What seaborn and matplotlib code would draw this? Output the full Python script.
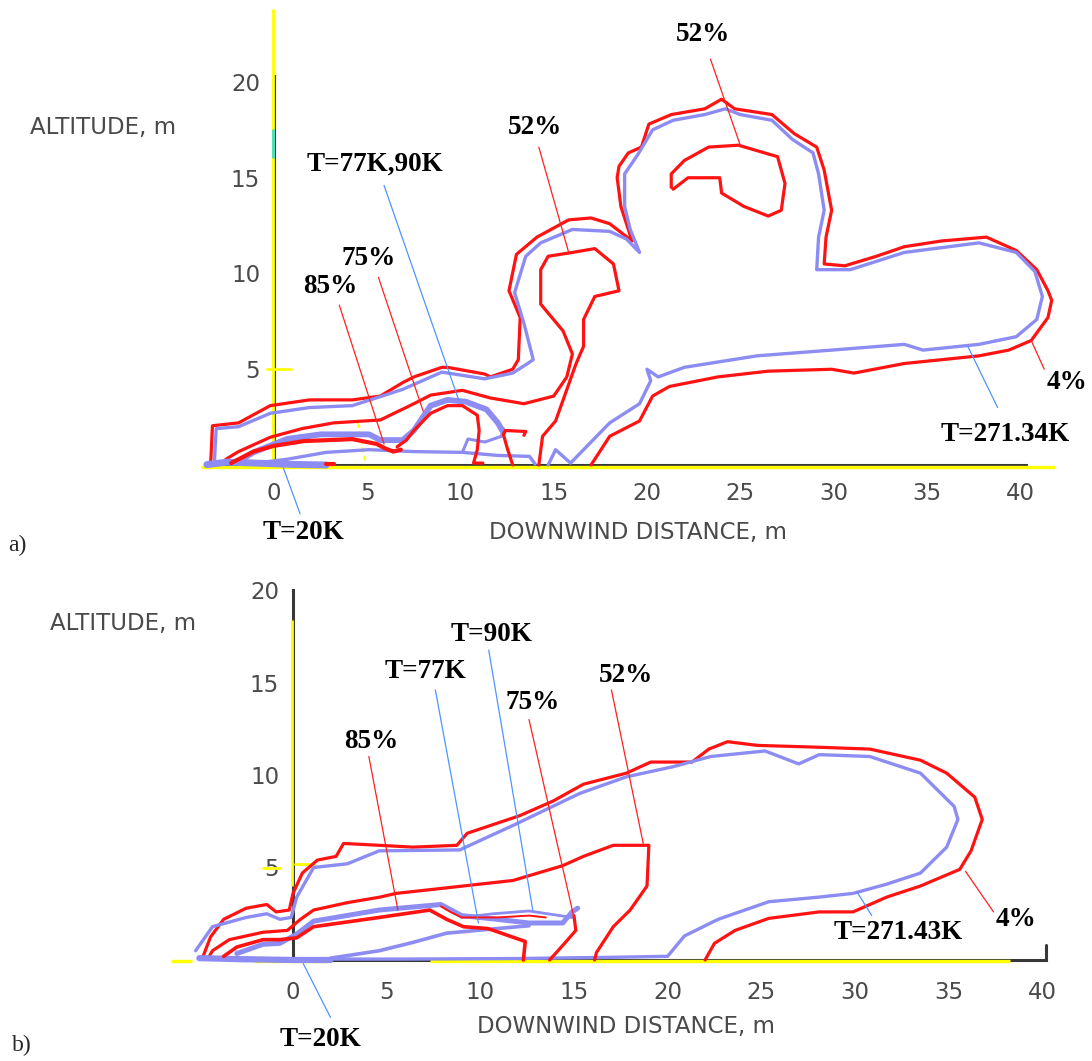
import matplotlib
matplotlib.use("Agg")
import matplotlib.pyplot as plt
import seaborn as sns
import numpy as np
from matplotlib import font_manager

# ------------------------------------------------------------------
# Panel a) contour traces (downwind distance m, altitude m)
# ------------------------------------------------------------------
A_R4_X = [-3.4,-3.3,-1.9,-0.2,1.9,4.2,5.7,6.9,7.5,9.0,9.3,11.3,11.6,12.8,13.1,13.2,12.6,13.0,14.1,15.8,17.0,18.0,19.2,18.6,18.4,18.5,19.0,19.7,20.1,21.3,23.1,24.0,24.7,26.7,27.9,29.1,29.5,29.9,29.6,29.5,30.6,32.3,33.8,35.8,38.2,39.8,40.9,41.5,41.7,41.5,40.6,39.4,37.8,35.8,33.8,31.1,29.9,26.5,23.8,21.2,20.3,19.6,18.0,17.0]
A_R4_Y = [0.0,2.05,2.2,3.1,3.4,3.4,3.6,4.3,4.6,5.1,5.1,4.75,4.6,5.0,5.5,7.7,9.1,11.0,11.9,12.8,12.9,12.6,11.7,13.5,15.0,15.6,16.3,16.6,17.8,18.3,18.6,19.1,18.6,18.3,17.3,16.6,15.4,13.3,11.9,10.5,10.4,10.9,11.4,11.7,11.9,11.2,10.2,9.1,8.6,7.7,6.5,6.0,5.7,5.5,5.3,4.8,5.0,4.9,4.6,4.1,3.6,2.3,1.5,0.0]

A_B271_X = [-3.2,-3.1,-1.9,-0.2,1.9,4.2,6.9,9.0,11.3,12.8,13.6,13.9,13.4,12.9,13.5,14.3,16.0,18.0,18.9,19.6,19.1,18.8,18.8,19.5,20.3,21.4,23.1,24.2,25.0,26.7,27.8,28.9,29.2,29.5,29.2,29.1,30.9,33.8,37.8,39.8,40.8,41.2,40.9,39.8,37.8,34.8,33.8,29.9,25.9,22.0,20.6,20.0,20.2,19.6,18.0,17.5,15.9,15.1,14.7]
A_B271_Y = [0.1,1.9,2.0,2.7,3.0,3.1,3.95,4.85,4.5,4.8,5.3,5.5,7.4,9.0,10.9,11.6,12.3,12.2,11.8,11.1,12.3,13.5,15.2,16.2,17.5,18.0,18.3,18.6,18.3,18.0,17.0,16.3,15.2,13.3,11.9,10.2,10.2,11.1,11.6,11.1,10.1,8.8,7.6,6.7,6.3,6.0,6.3,6.0,5.7,5.1,4.6,5.0,4.4,3.2,2.2,1.7,0.1,0.8,0.0]

A_R52_X = [-2.9,-2.5,-1.9,-0.2,1.5,3.2,5.7,7.5,8.4,10.1,11.6,13.4,15.0,15.7,16.0,15.5,14.3,14.3,14.7,16.0,17.2,18.2,18.5,17.2,16.6,16.6,16.2,15.1,14.4,14.2]
A_R52_Y = [0.05,0.35,0.7,1.45,1.9,2.2,2.35,3.2,3.65,3.9,3.5,3.2,3.6,4.6,5.8,7.0,8.4,10.2,10.9,11.1,11.3,10.5,9.1,8.8,7.6,6.2,5.3,2.3,1.5,0.0]

A_R52T_X = [21.3,21.3,22.0,23.3,24.9,27.0,27.4,27.2,26.5,25.2,24.0,23.9,22.2,21.4]
A_R52T_Y = [14.5,15.2,15.9,16.6,16.7,16.1,14.7,13.3,13.0,13.5,14.2,15.0,15.0,14.4]

A_R85_X = [-2.3,-1.1,0.0,1.6,4.2,5.5,6.0,6.4,6.8]
A_R85_Y = [0.1,0.7,1.0,1.25,1.35,1.1,0.85,0.7,0.8]
A_R75_X = [6.6,7.1,7.5,8.4,9.3,10.1,10.9,11.0,10.9,10.7,11.2]
A_R75_Y = [0.95,1.3,1.8,2.7,3.1,3.1,2.6,1.8,0.8,0.1,0.1]
A_RT_X = [13.4,13.5,12.4,12.3,12.5,12.8]
A_RT_Y = [1.55,1.75,1.8,1.6,0.9,0.0]
A_RG_X = [2.8,3.2]
A_RG_Y = [0.03,0.03]

A_B77_X = [-1.9,-1.1,0.7,2.5,5.1,5.7,6.9,7.5,8.4,9.3,10.3,11.4,12.0,12.3]
A_B77_Y = [0.2,0.66,1.36,1.6,1.6,1.3,1.3,1.8,3.1,3.4,3.3,2.9,2.2,1.7]
A_B90_X = [10.1,10.4,11.3,12.2,12.3]
A_B90_Y = [0.66,1.36,1.2,1.5,1.9]
A_BG_X = [-1.4,0.7,2.8,5.1,7.5,10.1,12.0,13.7,14.0]
A_BG_Y = [0.05,0.3,0.66,0.8,0.7,0.66,0.5,0.45,0.05]
A_B20_X = [-3.6,-2.5,-1.0,1.0,2.8]
A_B20_Y = [0.02,0.15,0.1,0.03,0.0]

A_LABELS = ["52%", "52%", "75%", "85%", "T=77K,90K", "4%", "T=271.34K", "T=20K"]
A_LAB_X = [23.0, 14.0, 5.1, 3.0, 5.4, 42.5, 39.2, 1.6]
A_LAB_Y = [22.5, 17.6, 10.8, 9.3, 15.7, 4.3, 1.6, -3.5]
A_PTR_X0 = [23.4, 14.2, 5.6, 3.5, 5.9, 41.3, 38.8, 1.4]
A_PTR_Y0 = [21.2, 16.6, 9.8, 8.35, 14.6, 5.0, 3.0, -2.55]
A_PTR_X1 = [25.0, 15.8, 8.0, 5.9, 9.9, 40.6, 37.2, 0.5]
A_PTR_Y1 = [16.7, 11.1, 2.8, 1.1, 3.4, 6.5, 6.2, -0.15]
A_PTR_KIND = ["r", "r", "r", "r", "b", "r", "b", "b"]

# ------------------------------------------------------------------
# Panel b) contour traces
# ------------------------------------------------------------------
B_R4_X = [-4.8,-4.4,-3.7,-2.5,-1.4,-0.9,-0.2,0.0,0.5,1.3,2.3,2.7,4.6,6.4,8.75,9.3,12.1,13.9,15.5,17.8,19.1,21.3,22.2,23.2,24.8,28.1,30.8,33.5,34.9,36.4,36.8,36.2,35.6,33.5,31.7,29.9,28.1,25.4,23.6,22.5,22.0]
B_R4_Y = [0.2,1.25,2.2,2.8,3.0,2.6,2.7,3.6,4.7,5.4,5.6,6.3,6.2,6.1,6.2,6.85,7.8,8.6,9.5,10.1,10.7,10.7,11.4,11.8,11.6,11.5,11.4,10.8,10.1,8.8,7.6,5.9,4.9,4.0,3.4,2.6,2.6,2.25,1.6,0.9,0.0]

B_B271_X = [-5.2,-4.3,-2.5,-1.4,-0.7,-0.1,0.2,1.1,2.9,4.6,8.9,11.8,15.3,17.8,20.3,22.3,25.2,27.0,28.1,30.8,33.5,35.3,35.5,34.9,33.5,31.7,29.9,28.1,25.4,22.7,20.9,20.0,17.3,12.0,6.0,1.5]
B_B271_Y = [0.5,1.8,2.3,2.5,2.2,2.3,3.4,5.0,5.2,5.9,5.95,7.3,9.0,9.9,10.45,11.0,11.3,10.6,11.1,11.0,10.1,8.3,7.6,6.1,4.7,4.1,3.6,3.4,3.15,2.2,1.3,0.2,0.15,0.08,0.05,0.05]

B_R52_X = [-4.5,-4.3,-3.4,-1.6,-0.3,0.4,1.1,2.9,4.65,5.5,8.2,11.75,14.4,15.5,17.1,19.0,18.9,18.0,17.1,16.2,16.1]
B_R52_Y = [0.15,0.5,1.1,1.5,1.6,2.2,2.7,3.1,3.4,3.6,3.9,4.3,5.1,5.6,6.2,6.2,4.0,2.7,1.8,0.4,0.0]

B_R85_X = [-3.7,-3.0,-1.6,-0.7,0.2,1.1,4.6,7.3,8.2,9.1,10.4,10.7,12.4,12.3]
B_R85_Y = [0.2,0.7,1.1,1.1,1.2,1.8,2.3,2.7,2.2,1.8,1.7,1.6,1.0,0.0]
B_RTHIN_X = [7.9,8.4,9.0,10.9,12.6,13.5]
B_RTHIN_Y = [2.9,2.6,2.3,2.3,2.4,2.3]
B_R75_X = [15.0,15.1,14.5,13.7]
B_R75_Y = [2.4,1.6,0.9,0.0]

B_B77_X = [-3.0,-1.6,-0.7,0.2,1.1,4.6,7.9,9.0,10.9,12.6,14.4,14.9,15.2]
B_B77_Y = [0.35,0.85,0.9,1.4,2.1,2.7,3.0,2.4,2.2,2.0,2.0,2.6,2.8]
B_B90_X = [9.0,10.7,12.6,14.9]
B_B90_Y = [2.3,2.5,2.65,2.3]
B_BLOW_X = [2.0,4.6,6.4,8.2,10.9,12.6]
B_BLOW_Y = [0.1,0.5,0.95,1.45,1.7,1.85]
B_B20_X = [-5.0,-3.0,0.0,2.0]
B_B20_Y = [0.1,0.05,0.0,0.0]

B_LABELS = ["85%", "T=77K", "T=90K", "75%", "52%", "4%", "T=271.43K", "T=20K"]
B_LAB_X = [4.2, 7.05, 10.6, 12.8, 17.8, 38.6, 32.3, 1.45]
B_LAB_Y = [11.8, 15.6, 17.6, 13.9, 15.4, 2.2, 1.5, -4.3]
B_PTR_X0 = [4.05, 7.6, 10.45, 12.6, 17.0, 37.4, 30.9, 2.0]
B_PTR_Y0 = [11.0, 14.6, 16.75, 13.0, 14.6, 2.6, 2.4, -3.1]
B_PTR_X1 = [5.6, 9.9, 12.8, 15.0, 18.7, 35.9, 30.1, 0.55]
B_PTR_Y1 = [2.7, 2.0, 2.7, 2.3, 6.3, 4.8, 3.7, -0.2]
B_PTR_KIND = ["r", "b", "b", "r", "r", "r", "b", "b"]

X_TICKS = [0, 5, 10, 15, 20, 25, 30, 35, 40]
Y_TICKS = [5, 10, 15, 20]

# ------------------------------------------------------------------
sns.set_theme(style="white")


def has_font(name):
    try:
        font_manager.findfont(font_manager.FontProperties(family=name),
                              fallback_to_default=False)
        return True
    except Exception:
        return False


if has_font("Liberation Sans Narrow"):
    AX_FONT, AX_SIZE = "Liberation Sans Narrow", 20
else:
    AX_FONT, AX_SIZE = "DejaVu Sans", 16.5
SERIF = "Liberation Serif" if has_font("Liberation Serif") else "DejaVu Serif"
plt.rcParams["font.family"] = [AX_FONT, "DejaVu Sans"]

RED = "#ff1212"
BLUE = "#8c8cf2"
PBLUE = "#4f94ff"
PRED = "#ff2020"
YEL = "#ffff00"
AXC = "#383838"
TXT = "#4a4a4a"
ANN_SIZE = 19.5

W, H = 1092, 1061
fig = plt.figure(figsize=(W / 100, H / 100), dpi=100)
fig.patch.set_facecolor("white")

ax_a = fig.add_axes([0, 1 - 560 / H, 1, 560 / H])
ax_b = fig.add_axes([0, 0, 1, 501 / H])


def curve(ax, xs, ys, color, lw, z=3):
    sns.lineplot(x=np.asarray(xs, float), y=np.asarray(ys, float), sort=False,
                 estimator=None, color=color, linewidth=lw, ax=ax, legend=False,
                 zorder=z, solid_joinstyle="round", solid_capstyle="round")


def setup(ax, xlim, ylim, xb, ytop, xpad):
    ax.set_facecolor("none")
    for s in ["top", "right"]:
        ax.spines[s].set_visible(False)
    for s in ["left", "bottom"]:
        ax.spines[s].set_position(("data", 0))
        ax.spines[s].set_color(AXC)
        ax.spines[s].set_linewidth(2.2)
        ax.spines[s].set_zorder(2.5)
    ax.spines["left"].set_bounds(0, ytop)
    ax.spines["bottom"].set_bounds(*xb)
    ax.set_xticks(X_TICKS)
    ax.set_yticks(Y_TICKS)
    ax.set_xticklabels([str(v) for v in X_TICKS])
    ax.set_yticklabels([str(v) for v in Y_TICKS])
    ax.tick_params(axis="both", direction="in", length=8, width=2.2,
                   color=AXC, labelcolor=TXT, labelsize=AX_SIZE)
    ax.tick_params(axis="x", pad=xpad)
    ax.tick_params(axis="y", pad=10)
    ax.grid(False)
    ax.set_xlabel("")
    ax.set_ylabel("")
    ax.set_xlim(*xlim)
    ax.set_ylim(*ylim)


def labels(ax, names, lx, ly, x0, y0, x1, y1, kinds):
    for n, a, b, p, q, r, s, k in zip(names, lx, ly, x0, y0, x1, y1, kinds):
        ax.plot([p, r], [q, s], color=PRED if k == "r" else PBLUE, lw=0.9, zorder=4)
        ax.text(a, b, n, ha="center", va="center", fontsize=ANN_SIZE, fontweight="bold",
                family=SERIF, color="black", zorder=5)


# ---------------- panel a ----------------
ax = ax_a
curve(ax, A_R4_X, A_R4_Y, RED, 2.3)
curve(ax, A_B271_X, A_B271_Y, BLUE, 2.4)
curve(ax, A_R52_X, A_R52_Y, RED, 2.3)
curve(ax, A_R52T_X, A_R52T_Y, RED, 2.3)
curve(ax, A_BG_X, A_BG_Y, BLUE, 2.4)
curve(ax, A_B20_X, A_B20_Y, BLUE, 5.0)
curve(ax, A_B77_X, A_B77_Y, BLUE, 4.2)
curve(ax, A_B90_X, A_B90_Y, BLUE, 2.2)
curve(ax, A_R85_X, A_R85_Y, RED, 3.0)
curve(ax, A_R75_X, A_R75_Y, RED, 2.3)
curve(ax, A_RT_X, A_RT_Y, RED, 2.3)
curve(ax, A_RG_X, A_RG_Y, RED, 3.0)
labels(ax, A_LABELS, A_LAB_X, A_LAB_Y, A_PTR_X0, A_PTR_Y0, A_PTR_X1, A_PTR_Y1, A_PTR_KIND)
# yellow overlays on the axes
ax.plot([-3.9, 41.9], [-0.08, -0.08], color=YEL, lw=2.4, zorder=2.8, solid_capstyle="butt")
ax.plot([-0.08, -0.08], [0, 23.8], color=YEL, lw=2.0, zorder=2.8, solid_capstyle="butt")
ax.plot([-0.4, 0.9], [5.0, 5.0], color=YEL, lw=2.0, zorder=2.8)
ax.plot([-0.08, -0.08], [16.1, 17.5], color="#40e0d0", lw=2.0, zorder=2.9)
ax.plot([4.5, 4.9], [2.2, 0.05], color=YEL, lw=1.2, ls=(0, (3, 2)), zorder=2.8)
setup(ax, (-274 / 18.65, (W - 274) / 18.65), ((465 - 560) / 19.15, 465 / 19.15),
      (-3.5, 40.3), 20.3, 12)
ax.text(-13.1, 17.6, "ALTITUDE, m", ha="left", va="center", fontsize=AX_SIZE, color=TXT)
ax.text(19.5, -3.55, "DOWNWIND DISTANCE, m", ha="center", va="center",
        fontsize=AX_SIZE, color=TXT)

# ---------------- panel b ----------------
ax = ax_b
curve(ax, B_R4_X, B_R4_Y, RED, 2.3)
curve(ax, B_B271_X, B_B271_Y, BLUE, 2.4)
curve(ax, B_R52_X, B_R52_Y, RED, 2.3)
curve(ax, B_BLOW_X, B_BLOW_Y, BLUE, 2.6)
curve(ax, B_B20_X, B_B20_Y, BLUE, 4.5)
curve(ax, B_B77_X, B_B77_Y, BLUE, 3.6)
curve(ax, B_B90_X, B_B90_Y, BLUE, 2.0)
curve(ax, B_R85_X, B_R85_Y, RED, 2.6)
curve(ax, B_RTHIN_X, B_RTHIN_Y, RED, 1.4)
curve(ax, B_R75_X, B_R75_Y, RED, 2.3)
labels(ax, B_LABELS, B_LAB_X, B_LAB_Y, B_PTR_X0, B_PTR_Y0, B_PTR_X1, B_PTR_Y1, B_PTR_KIND)
ax.plot([-6.5, -5.4], [-0.08, -0.08], color=YEL, lw=2.4, zorder=2.8, solid_capstyle="butt")
ax.plot([-2.1, 1.8], [-0.08, -0.08], color=YEL, lw=2.4, zorder=2.8, solid_capstyle="butt")
ax.plot([7.3, 38.3], [-0.08, -0.08], color=YEL, lw=2.4, zorder=2.8, solid_capstyle="butt")
ax.plot([-0.08, -0.08], [4.0, 18.4], color=YEL, lw=2.0, zorder=2.8, solid_capstyle="butt")
ax.plot([-1.6, -0.7], [5.0, 5.0], color=YEL, lw=2.0, zorder=2.8)
ax.plot([0.1, 1.1], [5.2, 5.2], color=YEL, lw=2.0, zorder=2.8)
ax.plot([40.2, 40.2], [0, 0.8], color=AXC, lw=2.2, zorder=2.6)
setup(ax, (-293 / 18.73, (W - 293) / 18.73), ((960 - H) / 18.5, (960 - 560) / 18.5),
      (-3.0, 40.2), 20.0, 15)
ax.text(-13.0, 18.2, "ALTITUDE, m", ha="left", va="center", fontsize=AX_SIZE, color=TXT)
ax.text(17.8, -3.6, "DOWNWIND DISTANCE, m", ha="center", va="center",
        fontsize=AX_SIZE, color=TXT)

fig.text(8 / W, 1 - 545 / H, "a)", ha="left", va="center", fontsize=17, family=SERIF)
fig.text(12 / W, 1 - 1045 / H, "b)", ha="left", va="center", fontsize=17, family=SERIF)

fig.savefig("out.png", dpi=100, facecolor="white")
